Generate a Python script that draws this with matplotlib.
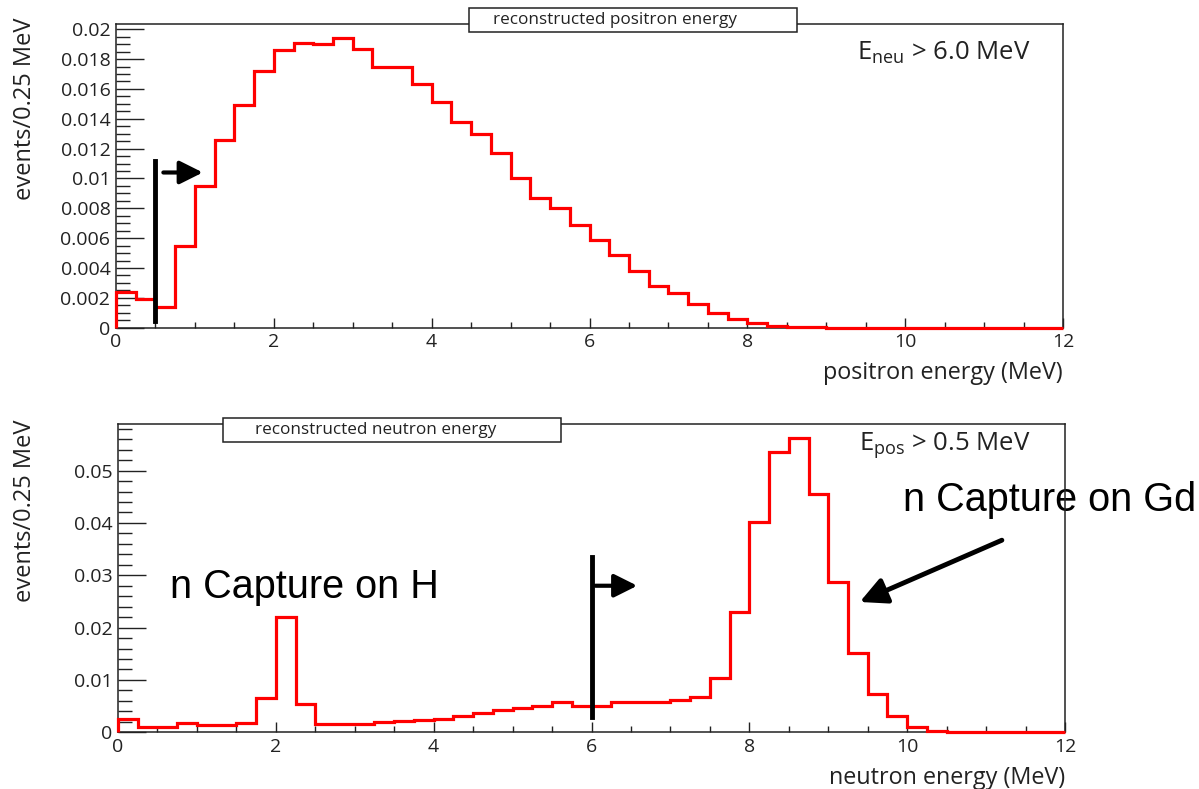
import numpy as np
import matplotlib
matplotlib.use("Agg")
import matplotlib.pyplot as plt
from matplotlib.patches import Rectangle
from matplotlib.ticker import MultipleLocator, FormatStrFormatter

plt.rcParams['font.family'] = ['Open Sans', 'DejaVu Sans']
plt.rcParams['mathtext.fontset'] = 'custom'
plt.rcParams['mathtext.rm'] = 'Open Sans'
plt.rcParams['mathtext.it'] = 'Open Sans:italic'

# 0.25 MeV bins from 0 to 12 MeV
bin_edges = np.arange(0, 12.001, 0.25)

positron_counts = [
    0.0024, 0.0019, 0.0014, 0.0055, 0.0095, 0.0126, 0.0149, 0.0172,
    0.0186, 0.0191, 0.0190, 0.0194, 0.0187, 0.0175, 0.0175, 0.0163,
    0.0151, 0.0138, 0.0130, 0.0117, 0.0100, 0.0087, 0.0080, 0.0069,
    0.0059, 0.0049, 0.0038, 0.0028, 0.0023, 0.0016, 0.0010, 0.0006,
    0.0003, 0.00012, 0.00004, 0.00002, 0.0, 0.0, 0.0, 0.0,
    0.0, 0.0, 0.0, 0.0, 0.0, 0.0, 0.0, 0.0,
]

neutron_counts = [
    0.0025, 0.0010, 0.0010, 0.0018, 0.0013, 0.0013, 0.0017, 0.0065,
    0.0220, 0.0055, 0.0015, 0.0016, 0.0016, 0.0020, 0.0022, 0.0024,
    0.0025, 0.0032, 0.0037, 0.0043, 0.0047, 0.0051, 0.0057, 0.0051,
    0.0051, 0.0057, 0.0058, 0.0057, 0.0062, 0.0068, 0.0104, 0.0230,
    0.0402, 0.0536, 0.0562, 0.0455, 0.0287, 0.0152, 0.0073, 0.0031,
    0.0011, 0.0003, 0.00005, 0.00003, 0.00002, 0.00001, 0.00001, 0.0,
]

positron_cut = 0.5   # MeV, cut applied to the neutron plot
neutron_cut = 6.0    # MeV, cut applied to the positron plot

W, H = 1199, 789
fig = plt.figure(figsize=(W / 100, H / 100), dpi=100)


def fx(x):
    return x / W


def fy(y):
    return 1 - y / H


def style_axes(ax, ymax, ymajor, yminor, label_xy):
    ax.set_xlim(0, 12)
    ax.set_ylim(0, ymax)
    ax.xaxis.set_major_locator(MultipleLocator(2))
    ax.xaxis.set_minor_locator(MultipleLocator(0.5))
    ax.yaxis.set_major_locator(MultipleLocator(ymajor))
    ax.yaxis.set_minor_locator(MultipleLocator(yminor))
    ax.xaxis.set_major_formatter(FormatStrFormatter('%g'))
    ax.yaxis.set_major_formatter(FormatStrFormatter('%g'))
    ax.tick_params(axis='both', which='both', direction='in', top=False, right=False,
                   labelsize=14, width=1.0, color='#222222', labelcolor='#222222')
    ax.tick_params(axis='y', which='major', length=20, pad=4)
    ax.tick_params(axis='y', which='minor', length=10)
    ax.tick_params(axis='x', which='major', length=7, pad=4)
    ax.tick_params(axis='x', which='minor', length=4)
    for s in ax.spines.values():
        s.set_linewidth(1.1)
        s.set_color('#222222')
    ax.set_ylabel('events/0.25 MeV', fontsize=17, loc='top', color='#222222')
    ax.yaxis.set_label_coords(*label_xy)


def title_box(x0, x1, y0, y1, tx, label):
    fig.add_artist(Rectangle((fx(x0), fy(y1)), fx(x1) - fx(x0), fy(y0) - fy(y1),
                             transform=fig.transFigure, facecolor='white',
                             edgecolor='#222222', lw=1.1, zorder=5))
    fig.text(fx(tx), fy((y0 + y1) / 2), label, fontsize=12.3, ha='left', va='center',
             zorder=6, color='#222222')


# top panel: positron energy
ax1 = fig.add_axes([fx(116), fy(327.7), fx(1063) - fx(116), fy(24) - fy(327.7)])
ax1.stairs(positron_counts, bin_edges, color='red', lw=2.3, clip_on=False, zorder=3)
style_axes(ax1, 0.02035, 0.002, 0.0005, (-0.083, 1.023))
ax1.set_xlabel('positron energy (MeV)', fontsize=16.8, loc='right', labelpad=7,
               color='#222222')
ax1.plot([positron_cut, positron_cut], [0.00045, 0.0112], color='black', lw=3.5, zorder=4)
ax1.annotate('', xy=(1.1, 0.0104), xytext=(0.6, 0.0104),
             arrowprops=dict(arrowstyle='-|>,head_length=0.7,head_width=0.35',
                             color='black', lw=3, mutation_scale=20, shrinkA=0, shrinkB=0))
ax1.text(0.7825, 0.8815, r'$\mathregular{E_{neu}}$ > 6.0 MeV', transform=ax1.transAxes,
         fontsize=18.5, ha='left', va='baseline', color='#222222')
title_box(469, 797, 8.3, 32.3, 493, 'reconstructed positron energy')

# bottom panel: neutron energy
ax2 = fig.add_axes([fx(118), fy(732.3), fx(1065) - fx(118), fy(424) - fy(732.3)])
ax2.stairs(neutron_counts, bin_edges, color='red', lw=2.3, clip_on=False, zorder=3)
style_axes(ax2, 0.0589, 0.01, 0.002, (-0.0855, 1.013))
ax2.set_xlabel('neutron energy (MeV)', fontsize=16.8, loc='right', labelpad=7,
               color='#222222')
ax2.plot([neutron_cut, neutron_cut], [0.003, 0.0335], color='black', lw=3.5, zorder=4)
ax2.annotate('', xy=(6.58, 0.028), xytext=(6.05, 0.028),
             arrowprops=dict(arrowstyle='-|>,head_length=0.7,head_width=0.35',
                             color='black', lw=3, mutation_scale=20, shrinkA=0, shrinkB=0))
ax2.annotate('', xy=(9.4, 0.0249), xytext=(11.2, 0.0367),
             arrowprops=dict(arrowstyle='-|>,head_length=0.8,head_width=0.4',
                             color='black', lw=3.5, mutation_scale=20, shrinkA=0, shrinkB=0))
ax2.text(0.7825, 0.9157, r'$\mathregular{E_{pos}}$ > 0.5 MeV', transform=ax2.transAxes,
         fontsize=18.5, ha='left', va='baseline', color='#222222')
ax2.text(0.66, 0.0278, 'n Capture on H', fontsize=28.5, family='Liberation Sans',
         ha='left', va='center', color='black')
ax2.text(9.95, 0.0444, 'n Capture on Gd', fontsize=28.5, family='Liberation Sans',
         ha='left', va='center', color='black', zorder=2)
title_box(223.3, 560.7, 418.3, 442.3, 255, 'reconstructed neutron energy')

fig.savefig('out.png', dpi=100)
